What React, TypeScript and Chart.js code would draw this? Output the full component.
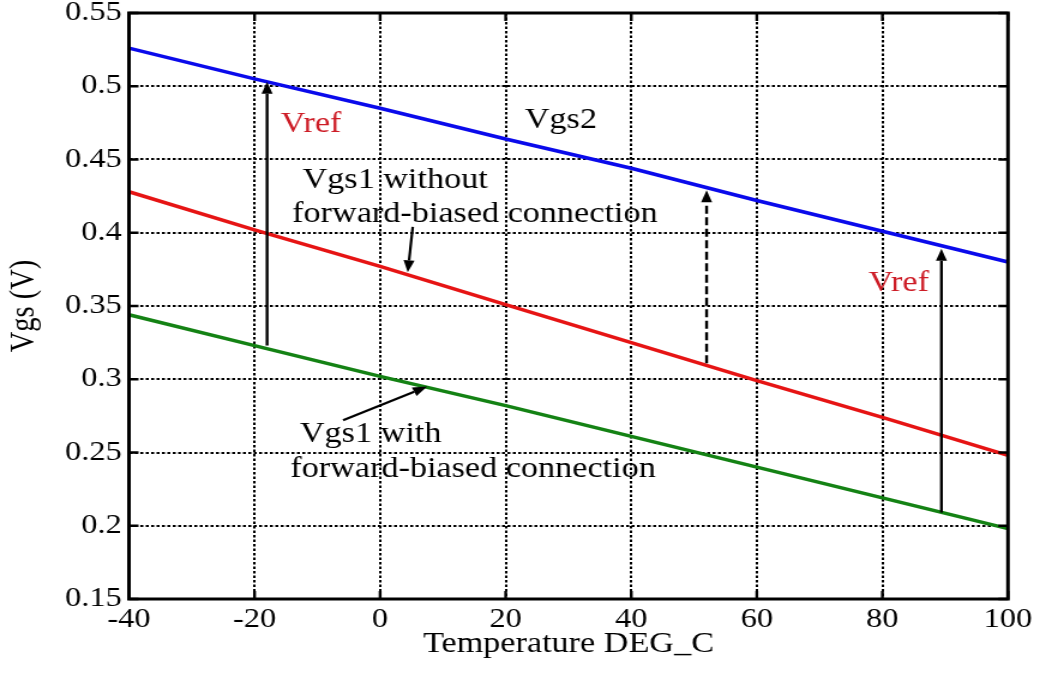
import { useEffect, useRef } from "react";
import { Chart, registerables } from "chart.js";

Chart.register(...registerables);

// Gate-source voltage versus temperature
const temperature = [-40, -20, 0, 20, 40, 60, 80, 100];
const vgs2 = [0.526, 0.505, 0.485, 0.464, 0.444, 0.422, 0.401, 0.38];
const vgs1Without = [0.428, 0.402, 0.377, 0.351, 0.325, 0.299, 0.274, 0.248];
const vgs1With = [0.344, 0.323, 0.302, 0.282, 0.261, 0.24, 0.219, 0.198];

const xRange = { min: -40, max: 100, step: 20 };
const yRange = { min: 0.15, max: 0.55, step: 0.05 };

// Vertical Vref arrows: from the lower curve up to Vgs2
const vrefArrows = [
  { x: -18, from: 0.323, to: 0.503, dashed: false },
  { x: 52, from: 0.311, to: 0.429, dashed: true },
  { x: 89.4, from: 0.209, to: 0.389, dashed: false },
];

// Leader arrows from the captions to their curves
const leaderArrows = [
  { x0: 5.2, y0: 0.404, x1: 4.4, y1: 0.373 },
  { x0: -5.9, y0: 0.272, x1: 7.5, y1: 0.295 },
];

const RED_TEXT = "rgb(205, 28, 38)";
const captions = [
  { text: "Vref", x: -11, y: 0.4688, color: RED_TEXT },
  { text: "Vgs2", x: 28.8, y: 0.4715, color: "#000" },
  { text: "Vgs1 without", x: 2.4, y: 0.4305, color: "#000" },
  { text: "forward-biased connection", x: 15.1, y: 0.4073, color: "#000" },
  { text: "Vgs1 with", x: -1.5, y: 0.2572, color: "#000" },
  { text: "forward-biased connection", x: 14.8, y: 0.2333, color: "#000" },
  { text: "Vref", x: 82.6, y: 0.3602, color: RED_TEXT },
];

const FONT = "'Liberation Serif', 'Times New Roman', serif";

function drawArrow(
  ctx: CanvasRenderingContext2D,
  x0: number,
  y0: number,
  x1: number,
  y1: number,
  dashed: boolean,
  width: number
) {
  const ang = Math.atan2(y1 - y0, x1 - x0);
  const headLen = 12;
  const headW = 4.6;
  const bx = x1 - headLen * Math.cos(ang);
  const by = y1 - headLen * Math.sin(ang);
  ctx.save();
  ctx.strokeStyle = "#000";
  ctx.fillStyle = "#000";
  ctx.lineWidth = width;
  ctx.setLineDash(dashed ? [8, 3.5] : []);
  ctx.beginPath();
  ctx.moveTo(x0, y0);
  ctx.lineTo(bx, by);
  ctx.stroke();
  ctx.setLineDash([]);
  ctx.beginPath();
  ctx.moveTo(x1, y1);
  ctx.lineTo(bx + headW * Math.sin(ang), by - headW * Math.cos(ang));
  ctx.lineTo(bx - headW * Math.sin(ang), by + headW * Math.cos(ang));
  ctx.closePath();
  ctx.fill();
  ctx.restore();
}

const annotationPlugin = {
  id: "vgsAnnotations",
  afterDatasetsDraw(chart: any) {
    const { ctx, scales } = chart;
    const xs = scales.x;
    const ys = scales.y;
    vrefArrows.forEach((a) => {
      const px = xs.getPixelForValue(a.x);
      drawArrow(ctx, px, ys.getPixelForValue(a.from), px, ys.getPixelForValue(a.to), a.dashed, 2.4);
    });
    leaderArrows.forEach((a) => {
      drawArrow(
        ctx,
        xs.getPixelForValue(a.x0),
        ys.getPixelForValue(a.y0),
        xs.getPixelForValue(a.x1),
        ys.getPixelForValue(a.y1),
        false,
        2.2
      );
    });
    ctx.save();
    ctx.font = `28.5px ${FONT}`;
    ctx.textAlign = "center";
    ctx.textBaseline = "alphabetic";
    captions.forEach((c) => {
      ctx.fillStyle = c.color;
      ctx.fillText(c.text, xs.getPixelForValue(c.x), ys.getPixelForValue(c.y));
    });
    ctx.restore();
  },
  afterDraw(chart: any) {
    const { ctx, chartArea, scales } = chart;
    const { left, right, top, bottom } = chartArea;
    ctx.save();
    ctx.strokeStyle = "#000";
    // inward tick marks on all four sides
    ctx.lineWidth = 2.4;
    ctx.beginPath();
    scales.x.ticks.forEach((t: any) => {
      const px = scales.x.getPixelForValue(t.value);
      ctx.moveTo(px, bottom);
      ctx.lineTo(px, bottom - 8);
      ctx.moveTo(px, top);
      ctx.lineTo(px, top + 8);
    });
    scales.y.ticks.forEach((t: any) => {
      const py = scales.y.getPixelForValue(t.value);
      ctx.moveTo(left, py);
      ctx.lineTo(left + 8, py);
      ctx.moveTo(right, py);
      ctx.lineTo(right - 8, py);
    });
    ctx.stroke();
    // axes box
    ctx.lineWidth = 3;
    ctx.strokeRect(left, top, right - left, bottom - top);
    ctx.restore();
  },
};

export default function App() {
  const canvasRef = useRef<HTMLCanvasElement | null>(null);

  useEffect(() => {
    const canvas = canvasRef.current;
    if (!canvas) return;

    const series = (values: number[]) => temperature.map((t, i) => ({ x: t, y: values[i] }));

    const chart = new Chart(canvas, {
      type: "line",
      data: {
        datasets: [
          { label: "Vgs2", data: series(vgs2), borderColor: "rgb(10, 10, 235)", borderWidth: 3.5, pointRadius: 0, tension: 0 },
          { label: "Vgs1 without forward-biased connection", data: series(vgs1Without), borderColor: "rgb(230, 20, 20)", borderWidth: 3.5, pointRadius: 0, tension: 0 },
          { label: "Vgs1 with forward-biased connection", data: series(vgs1With), borderColor: "rgb(20, 130, 20)", borderWidth: 3.5, pointRadius: 0, tension: 0 },
        ],
      },
      options: {
        animation: false,
        responsive: false,
        devicePixelRatio: 1,
        events: [],
        layout: { padding: { left: 0, right: 26.7, top: 13, bottom: 0 } },
        plugins: { legend: { display: false }, tooltip: { enabled: false } },
        scales: {
          x: {
            type: "linear",
            min: xRange.min,
            max: xRange.max,
            ticks: {
              stepSize: xRange.step,
              color: "#000",
              font: { family: FONT, size: 27 },
              padding: 5,
              maxRotation: 0,
              autoSkip: false,
              callback: (v: any) => String(v),
            },
            grid: { color: "#000", lineWidth: 2, drawTicks: false },
            border: { display: false, dash: [2.5, 2] },
            title: {
              display: true,
              text: "Temperature DEG_C",
              color: "#000",
              font: { family: FONT, size: 28.5 },
              padding: { top: 0, bottom: 13 },
            },
            afterFit: (scale: any) => {
              scale.height = 76;
              scale.paddingLeft = 0;
              scale.paddingRight = 0;
            },
          },
          y: {
            type: "linear",
            min: yRange.min,
            max: yRange.max,
            ticks: {
              stepSize: yRange.step,
              color: "#000",
              font: { family: FONT, size: 27 },
              padding: 6,
              autoSkip: false,
              callback: (v: any) => String(Number(Number(v).toFixed(2))),
            },
            grid: { color: "#000", lineWidth: 2, drawTicks: false },
            border: { display: false, dash: [2.5, 2] },
            title: {
              display: true,
              text: "Vgs (V)",
              color: "#000",
              font: { family: FONT, size: 28.5 },
              padding: { top: 3, bottom: 0 },
            },
            afterFit: (scale: any) => {
              scale.width = 107.5;
              scale.paddingTop = 0;
              scale.paddingBottom = 0;
            },
          },
        },
      },
      plugins: [annotationPlugin],
    } as any);

    return () => chart.destroy();
  }, []);

  return (
    <div style={{ position: "absolute", left: 0, top: 0, width: 1040, height: 675, background: "#fff" }}>
      <canvas
        ref={canvasRef}
        width={867}
        height={675}
        style={{ width: "1040px", height: "675px", display: "block" }}
      />
    </div>
  );
}
